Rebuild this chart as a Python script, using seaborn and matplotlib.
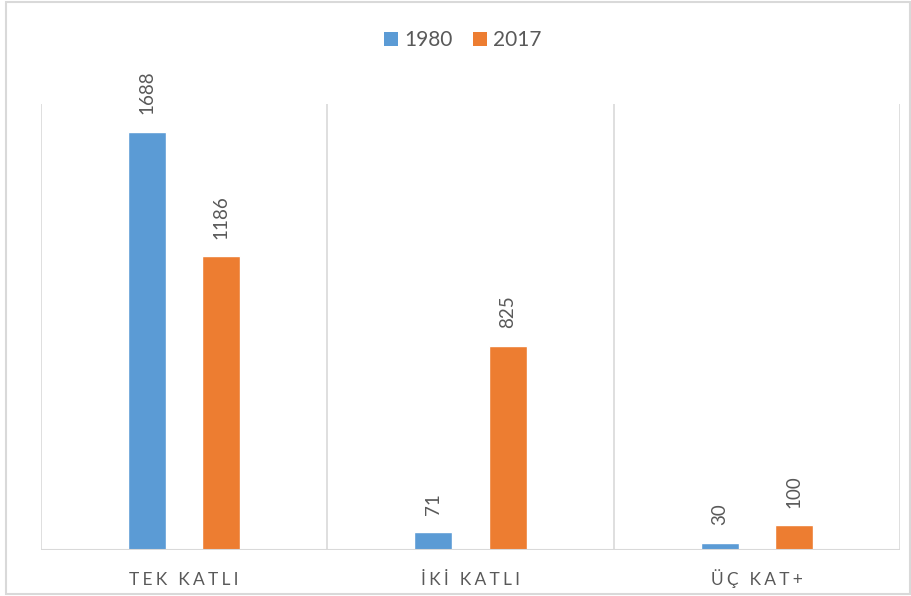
import matplotlib
matplotlib.use("Agg")
import matplotlib.pyplot as plt
import seaborn as sns
import pandas as pd
from matplotlib.patches import Rectangle, Patch

categories = ["TEK KATLI", "İKİ KATLI", "ÜÇ KAT+"]
years = ["1980", "2017"]
values_1980 = [1688, 71, 30]
values_2017 = [1186, 825, 100]
colors = ["#5B9BD5", "#ED7D31"]

rows = []
for c, v in zip(categories, values_1980):
    rows.append({"cat": c, "year": years[0], "val": v})
for c, v in zip(categories, values_2017):
    rows.append({"cat": c, "year": years[1], "val": v})
df = pd.DataFrame(rows)

sns.set_theme(style="white")
plt.rcParams["font.family"] = ["Lato", "DejaVu Sans"]
txt = "#595959"

fig = plt.figure(figsize=(9.12, 5.96), dpi=100)
ax = fig.add_axes([41 / 912, 46 / 596, (900 - 41) / 912, (550 - 104) / 596])

sns.barplot(data=df, x="cat", y="val", hue="year", order=categories,
            hue_order=years, palette=colors, width=0.52, gap=0.49,
            ax=ax, legend=False, saturation=1)

ax.set_ylim(0, 1800)
ax.set_xlim(-0.5, len(categories) - 0.5)
for s in ax.spines.values():
    s.set_visible(False)
ax.set_yticks([])
ax.set_xlabel("")
ax.set_ylabel("")

for b in [-0.5 + i for i in range(len(categories) + 1)]:
    ax.axvline(b, color="#D9D9D9", lw=1.2, zorder=0)
ax.axhline(0, color="#D9D9D9", lw=1.5, zorder=3)

for cont in ax.containers:
    for bar in cont:
        h = bar.get_height()
        ax.annotate(f"{int(h)}", (bar.get_x() + bar.get_width() / 2, h),
                    xytext=(0, 12.5), textcoords="offset points",
                    rotation=90, ha="center", va="bottom",
                    fontsize=13.5, color=txt)

spaced = ["\u2009\u200a".join(list(c)) for c in categories]
ax.set_xticks(range(len(categories)))
ax.set_xticklabels(spaced, fontsize=12.5, color=txt)
for lab in ax.get_xticklabels():
    lab.set_va("baseline")
ax.tick_params(axis="x", length=0, pad=25)

handles = [Patch(facecolor=c, edgecolor="none") for c in colors]
fig.legend(handles, years, loc="center", bbox_to_anchor=(463 / 912, 1 - 40 / 596),
           ncol=2, frameon=False, fontsize=15, handlelength=0.65, handleheight=0.65,
           handletextpad=0.3, columnspacing=1.0, labelcolor=txt)

fig.patches.append(Rectangle((6 / 912, 2 / 596), 904 / 912, 592 / 596,
                             transform=fig.transFigure, fill=False,
                             edgecolor="#D9D9D9", lw=1.5))

fig.savefig("out.png", dpi=100)
